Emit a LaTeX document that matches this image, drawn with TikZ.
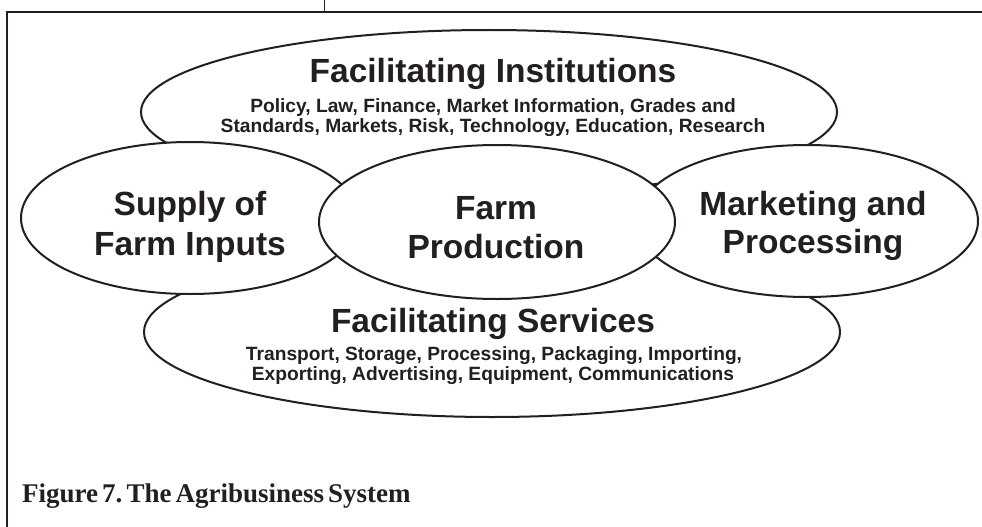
\documentclass[tikz,border=0pt]{standalone}
\usepackage{fontspec}
\setmainfont{Liberation Serif}
\newfontfamily\arialb{Liberation Sans}[BoldFont={Liberation Sans Bold}]
\newfontfamily\capfont{Liberation Serif}[BoldFont={Liberation Serif Bold}, WordSpace=0.6]
\usetikzlibrary{shapes.geometric}
\definecolor{ink}{HTML}{231F20}
\tikzset{
  oval/.style={ellipse, draw=ink, fill=white, line width=2pt, inner sep=0pt},
  bigtxt/.style={anchor=base, text=ink, font=\arialb\bfseries\fontsize{33.5}{40}\selectfont},
  smalltxt/.style={anchor=base, text=ink, font=\arialb\bfseries\fontsize{19.2}{22}\selectfont},
  frame/.style={draw=ink, line width=2.4pt},
}
\begin{document}
\begin{tikzpicture}[x=1pt,y=-1pt]
\useasboundingbox (0,0) rectangle (982,527);
% frame
\coordinate (tick0) at (324,0);
\coordinate (tick1) at (324,12.3);
\coordinate (fa) at (7,527);
\coordinate (fb) at (7,12.3);
\coordinate (fc) at (983,12.3);
\draw[draw=ink, line width=1pt] (tick0) -- (tick1);
\draw[frame] (fa) -- (fb) -- (fc);
% ellipses
\node[oval, minimum width=696pt, minimum height=164pt] (inst) at (489,112) {};
\node[oval, minimum width=696pt, minimum height=170pt] (serv) at (492,332) {};
\node[oval, minimum width=338pt, minimum height=152pt] (supply) at (190,218) {};
\node[oval, minimum width=342pt, minimum height=152pt] (market) at (807,221) {};
\node[oval, minimum width=356pt, minimum height=154pt] (farm) at (497,222) {};
% texts
\node[bigtxt] (instT) at (493,82) {Facilitating Institutions};
\node[smalltxt] (instS1) at (493,112) {Policy, Law, Finance, Market Information, Grades and};
\node[smalltxt] (instS2) at (493,132) {Standards, Markets, Risk, Technology, Education, Research};
\node[bigtxt] (supT1) at (190,215) {Supply of};
\node[bigtxt] (supT2) at (190,255) {Farm Inputs};
\node[bigtxt] (farmT1) at (496,219) {Farm};
\node[bigtxt] (farmT2) at (496,258) {Production};
\node[bigtxt] (mktT1) at (813,215) {Marketing and};
\node[bigtxt] (mktT2) at (813,253) {Processing};
\node[bigtxt] (servT) at (493,332) {Facilitating Services};
\node[smalltxt] (servS1) at (494,360) {Transport, Storage, Processing, Packaging, Importing,};
\node[smalltxt] (servS2) at (493,380) {Exporting, Advertising, Equipment, Communications};
\node[anchor=base west, inner sep=0pt, text=ink, font=\capfont\bfseries\frenchspacing\fontsize{27}{30}\selectfont] (cap) at (22,502) {Figure 7. The Agribusiness System};
\end{tikzpicture}
\end{document}
